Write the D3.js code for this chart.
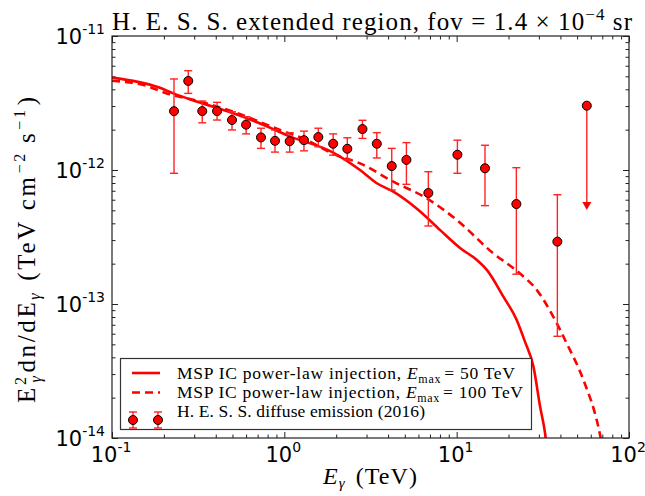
<!DOCTYPE html>
<html>
<head>
<meta charset="utf-8">
<script src="https://cdn.jsdelivr.net/npm/d3@7"></script>
<style>
  body { margin: 0; background: #fff; }
  svg { display: block; }
</style>
</head>
<body>
<div id="chart"></div>
<script>
// tick labels
const xTicks = [0.1, 1, 10, 100];
const xTickExp = ["-1", "0", "1", "2"];
const yTicks = [1e-14, 1e-13, 1e-12, 1e-11];
const yTickExp = ["-14", "-13", "-12", "-11"];

// H.E.S.S. diffuse emission (2016)
const hessE = [0.229, 0.277, 0.334, 0.407, 0.497, 0.600, 0.732, 0.883, 1.074, 1.30, 1.575,
  1.92, 2.32, 2.84, 3.44, 4.20, 5.11, 6.85, 10.1, 14.6, 22.2, 38.4];
const hessF = [2.75e-12, 4.62e-12, 2.75e-12, 2.75e-12, 2.36e-12, 2.18e-12, 1.75e-12, 1.65e-12,
  1.64e-12, 1.67e-12, 1.76e-12, 1.57e-12, 1.44e-12, 2.02e-12, 1.57e-12, 1.07e-12, 1.19e-12,
  6.73e-13, 1.30e-12, 1.03e-12, 5.57e-13, 2.92e-13];
const hessHi = [4.78e-12, 5.51e-12, 3.27e-12, 3.20e-12, 2.72e-12, 2.50e-12, 2.05e-12, 1.99e-12,
  1.90e-12, 1.95e-12, 2.05e-12, 1.86e-12, 1.74e-12, 2.35e-12, 1.90e-12, 1.45e-12, 1.60e-12,
  9.71e-13, 1.67e-12, 1.53e-12, 1.04e-12, 6.54e-13];
const hessLo = [9.45e-13, 3.73e-12, 2.25e-12, 2.36e-12, 1.99e-12, 1.86e-12, 1.45e-12, 1.36e-12,
  1.36e-12, 1.39e-12, 1.49e-12, 1.29e-12, 1.19e-12, 1.72e-12, 1.23e-12, 7.09e-13, 7.82e-13,
  3.82e-13, 9.45e-13, 5.42e-13, 1.67e-13, 5.74e-14];
// upper limit
const ulE = [56.9];
const ulF = [3.02e-12];
const ulTo = [5.03e-13];

// MSP IC power-law injection, Emax = 50 TeV
const e50 = [0.1, 0.186, 0.227, 0.31, 0.506, 0.863, 1.03, 1.92, 2.75, 3.44, 4.29, 6.0, 8.02,
  10.5, 13.1, 15.0, 18.7, 22.3, 24.9, 27.9, 30.5, 32.6, 33.5];
const f50 = [4.89e-12, 4.14e-12, 3.73e-12, 3.24e-12, 2.65e-12, 2.02e-12, 1.82e-12, 1.35e-12,
  1.0e-12, 7.96e-13, 6.89e-13, 5.03e-13, 3.56e-13, 2.61e-13, 2.13e-13, 1.79e-13, 1.13e-13,
  7.6e-14, 5.24e-14, 3.41e-14, 1.71e-14, 1.08e-14, 8e-15];
// MSP IC power-law injection, Emax = 100 TeV
const e100 = [0.1, 0.152, 0.208, 0.324, 0.506, 0.944, 1.35, 1.92, 2.75, 4.29, 6.70, 10.0, 16.3,
  23.3, 29.2, 36.4, 43.5, 54.4, 66.4, 69.8];
const f100 = [4.63e-12, 4.31e-12, 3.73e-12, 3.24e-12, 2.72e-12, 1.99e-12, 1.67e-12, 1.32e-12,
  1.12e-12, 8.18e-13, 6.15e-13, 4.24e-13, 2.39e-13, 1.69e-13, 1.27e-13, 8.03e-14, 5.09e-14,
  2.71e-14, 1.21e-14, 8.9e-15];

const width = 645, height = 496;
const margin = { left: 112, right: 16, top: 36, bottom: 58 };
const serif = "'Liberation Serif', 'DejaVu Serif', serif";
const sans = "'DejaVu Sans', sans-serif";

const svg = d3.select("#chart").append("svg")
  .attr("width", width).attr("height", height);
svg.append("rect").attr("width", width).attr("height", height).attr("fill", "#fff");

const x = d3.scaleLog().domain([0.1, 100]).range([margin.left, width - margin.right]);
const y = d3.scaleLog().domain([1e-14, 1e-11]).range([height - margin.bottom, margin.top]);
const x0 = margin.left, x1 = width - margin.right;
const y0 = height - margin.bottom, y1 = margin.top;

svg.append("clipPath").attr("id", "clip")
  .append("rect").attr("x", x0).attr("y", y1).attr("width", x1 - x0).attr("height", y0 - y1);

// ticks, all pointing inward
const isMajor = (v) => Math.abs(Math.log10(v) - Math.round(Math.log10(v))) < 1e-9;
const xMinor = x.ticks().filter((v) => !isMajor(v));
const yMinor = y.ticks().filter((v) => !isMajor(v));

function ticks(axis, tr, vals, size) {
  svg.append("g")
    .attr("transform", tr)
    .call(axis.tickValues(vals).tickSize(-size).tickFormat(""))
    .call((g) => g.select(".domain").remove())
    .selectAll("line").attr("stroke", "#222").attr("stroke-width", 1);
}
ticks(d3.axisBottom(x), `translate(0,${y0})`, xTicks, 6);
ticks(d3.axisBottom(x), `translate(0,${y0})`, xMinor, 3.5);
ticks(d3.axisTop(x), `translate(0,${y1})`, xTicks, 6);
ticks(d3.axisTop(x), `translate(0,${y1})`, xMinor, 3.5);
ticks(d3.axisLeft(y), `translate(${x0},0)`, yTicks, 6);
ticks(d3.axisLeft(y), `translate(${x0},0)`, yMinor, 3.5);
ticks(d3.axisRight(y), `translate(${x1},0)`, yTicks, 6);
ticks(d3.axisRight(y), `translate(${x1},0)`, yMinor, 3.5);

// tick labels
const xl = svg.append("g").selectAll("text").data(xTicks).enter().append("text")
  .attr("x", (d) => x(d) - 1)
  .attr("y", y0 + 24)
  .attr("text-anchor", "middle")
  .style("font-family", sans).style("font-size", "21px").attr("fill", "#000");
xl.append("tspan").text("10");
xl.append("tspan").attr("dy", -10).style("font-size", "14px").text((d, i) => xTickExp[i]);

const yl = svg.append("g").selectAll("text").data(yTicks).enter().append("text")
  .attr("x", x0 - 7)
  .attr("y", (d) => y(d) + 7.5)
  .attr("text-anchor", "end")
  .style("font-family", sans).style("font-size", "21px").attr("fill", "#000");
yl.append("tspan").text("10");
yl.append("tspan").attr("dy", -10).style("font-size", "14px").text((d, i) => yTickExp[i]);

// curves
const line = d3.line().x((d) => x(d[0])).y((d) => y(d[1])).curve(d3.curveMonotoneX);
const plot = svg.append("g").attr("clip-path", "url(#clip)");
plot.append("path")
  .datum(e50.map((e, i) => [e, f50[i]]))
  .attr("d", line).attr("fill", "none").attr("stroke", "red").attr("stroke-width", 2.6);
plot.append("path")
  .datum(e100.map((e, i) => [e, f100[i]]))
  .attr("d", line).attr("fill", "none").attr("stroke", "red").attr("stroke-width", 2.6)
  .attr("stroke-dasharray", "8,5");

// error bars + markers
const pts = hessE.map((e, i) => ({ e: e, f: hessF[i], hi: hessHi[i], lo: hessLo[i] }));
const eb = plot.append("g").attr("stroke", "#f22").attr("stroke-width", 1.4);
eb.selectAll(".bar").data(pts).enter().append("line")
  .attr("x1", (d) => x(d.e)).attr("x2", (d) => x(d.e))
  .attr("y1", (d) => y(d.hi)).attr("y2", (d) => y(d.lo));
eb.selectAll(".capHi").data(pts).enter().append("line")
  .attr("x1", (d) => x(d.e) - 4).attr("x2", (d) => x(d.e) + 4)
  .attr("y1", (d) => y(d.hi)).attr("y2", (d) => y(d.hi));
eb.selectAll(".capLo").data(pts).enter().append("line")
  .attr("x1", (d) => x(d.e) - 4).attr("x2", (d) => x(d.e) + 4)
  .attr("y1", (d) => y(d.lo)).attr("y2", (d) => y(d.lo));

// upper limit arrow
ulE.forEach((e, i) => {
  const px = x(e), tip = y(ulTo[i]);
  eb.append("line").attr("x1", px).attr("x2", px).attr("y1", y(ulF[i])).attr("y2", tip - 7);
  plot.append("path")
    .attr("d", `M${px - 4.5},${tip - 8}L${px + 4.5},${tip - 8}L${px},${tip}Z`)
    .attr("fill", "red");
});

plot.selectAll(".pt").data(pts.concat(ulE.map((e, i) => ({ e: e, f: ulF[i] }))))
  .enter().append("circle")
  .attr("cx", (d) => x(d.e)).attr("cy", (d) => y(d.f)).attr("r", 4.5)
  .attr("fill", "red").attr("stroke", "#000").attr("stroke-width", 1);

// frame
svg.append("rect").attr("x", x0).attr("y", y1).attr("width", x1 - x0).attr("height", y0 - y1)
  .attr("fill", "none").attr("stroke", "#222").attr("stroke-width", 1.2);

// legend
const lg = svg.append("g");
lg.append("rect").attr("x", 120.5).attr("y", 358.5).attr("width", 411).attr("height", 71)
  .attr("fill", "#fff").attr("stroke", "#333").attr("stroke-width", 1.2);
lg.append("line").attr("x1", 132).attr("x2", 160).attr("y1", 373).attr("y2", 373)
  .attr("stroke", "red").attr("stroke-width", 2.6);
lg.append("line").attr("x1", 132).attr("x2", 160).attr("y1", 392.5).attr("y2", 392.5)
  .attr("stroke", "red").attr("stroke-width", 2.6).attr("stroke-dasharray", "8,5");
[133, 158].forEach((px) => {
  lg.append("line").attr("x1", px).attr("x2", px).attr("y1", 412).attr("y2", 428)
    .attr("stroke", "#f22").attr("stroke-width", 1.4);
  [412, 428].forEach((py) => lg.append("line").attr("x1", px - 4).attr("x2", px + 4)
    .attr("y1", py).attr("y2", py).attr("stroke", "#f22").attr("stroke-width", 1.4));
  lg.append("circle").attr("cx", px).attr("cy", 420).attr("r", 4.5)
    .attr("fill", "red").attr("stroke", "#000");
});

function legendText(yy, emax, len) {
  const t = lg.append("text").attr("x", 177).attr("y", yy)
    .attr("textLength", len).attr("lengthAdjust", "spacing")
    .style("font-family", serif).style("font-size", "17.5px");
  if (emax) {
    t.append("tspan").text("MSP IC power-law injection,  ");
    t.append("tspan").style("font-style", "italic").text("E");
    t.append("tspan").attr("dy", 4).style("font-size", "12px").text("max");
    t.append("tspan").attr("dy", -4).attr("dx", 3).text("= " + emax + " TeV");
  } else {
    t.append("tspan").text("H. E. S. S.  diffuse emission (2016)");
  }
}
legendText(379, 50, 338);
legendText(398, 100, 346);
legendText(417, null, 248);

// title
const title = svg.append("text").attr("x", 112).attr("y", 30)
  .attr("textLength", 520).attr("lengthAdjust", "spacing")
  .style("font-family", serif).style("font-size", "25px");
title.append("tspan").text("H. E. S. S.  extended region,  fov = 1.4 × 10");
title.append("tspan").attr("dy", -10).style("font-size", "17px").text("−4");
title.append("tspan").attr("dy", 10).text(" sr");

// x label
const xlab = svg.append("text").attr("x", 323).attr("y", 484)
  .attr("textLength", 94).attr("lengthAdjust", "spacing")
  .style("font-family", serif).style("font-size", "24px");
xlab.append("tspan").style("font-style", "italic").text("E");
xlab.append("tspan").attr("dy", 4).style("font-size", "15px").style("font-style", "italic").text("γ");
xlab.append("tspan").attr("dy", -4).attr("dx", 10).text("(TeV)");

// y label
const ylab = svg.append("text").attr("transform", "translate(35,403) rotate(-90)")
  .attr("textLength", 306).attr("lengthAdjust", "spacing")
  .style("font-family", serif).style("font-size", "25px");
ylab.append("tspan").text("E");
ylab.append("tspan").attr("dy", -9).style("font-size", "16px").text("2");
ylab.append("tspan").attr("dx", -8).attr("dy", 15).style("font-size", "16px").style("font-style", "italic").text("γ");
ylab.append("tspan").attr("dy", -6).attr("dx", 1).text("dn/dE");
ylab.append("tspan").attr("dy", 5).style("font-size", "16px").style("font-style", "italic").text("γ");
ylab.append("tspan").attr("dy", -5).attr("dx", 10).text("(TeV");
ylab.append("tspan").attr("dx", 9).text("cm");
ylab.append("tspan").attr("dy", -10).attr("dx", 1).style("font-size", "16px").text("−2");
ylab.append("tspan").attr("dy", 10).attr("dx", 8).text("s");
ylab.append("tspan").attr("dy", -10).attr("dx", 1).style("font-size", "16px").text("−1");
ylab.append("tspan").attr("dy", 10).attr("dx", 2).text(")");
</script>
</body>
</html>
